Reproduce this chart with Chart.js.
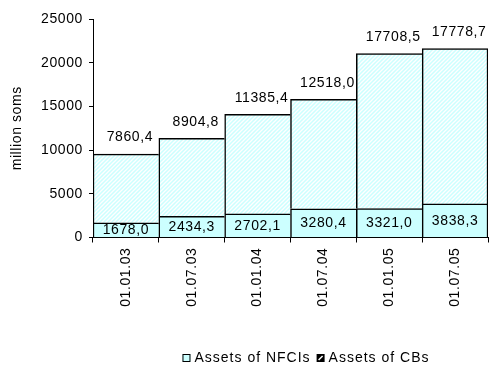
<!DOCTYPE html>
<html>
<head>
<meta charset="utf-8">
<script src="https://cdn.jsdelivr.net/npm/chart.js@4.4.1/dist/chart.umd.min.js"></script>
<style>
  html, body { margin: 0; padding: 0; background: #fff; }
</style>
</head>
<body>
<canvas id="grafico" width="493" height="365"></canvas>
<script>
const fechas = ["01.01.03", "01.07.03", "01.01.04", "01.07.04", "01.01.05", "01.07.05"];
const activosNFCI = [1678.0, 2434.3, 2702.1, 3280.4, 3321.0, 3838.3];
const activosCB = [7860.4, 8904.8, 11385.4, 12518.0, 17708.5, 17778.7];
const ticksY = [0, 5000, 10000, 15000, 20000, 25000];
const nombres = ["Assets of NFCIs", "Assets of CBs"];

const FUENTE = '"Liberation Sans", Arial, sans-serif';
const CIAN = "#ccffff";

Chart.defaults.font.family = FUENTE;
Chart.defaults.font.size = 14;
Chart.defaults.color = "#000";

// relleno rayado para la serie de arriba
function crearRayado() {
    const c = document.createElement("canvas");
    const n = 4;
    c.width = n; c.height = n;
    const g = c.getContext("2d");
    g.fillStyle = CIAN;
    g.fillRect(0, 0, n, n);
    g.strokeStyle = "#fff";
    g.lineWidth = 1.3;
    g.beginPath();
    g.moveTo(0, n); g.lineTo(n, 0);
    g.moveTo(-1, 1); g.lineTo(1, -1);
    g.moveTo(n - 1, n + 1); g.lineTo(n + 1, n - 1);
    g.stroke();
    return g.createPattern(c, "repeat");
}

const formato = v => v.toFixed(1).replace(".", ",");

// el texto del gráfico va algo espaciado
const espaciado = {
    id: "espaciado",
    beforeDraw(chart) {
        chart.ctx.letterSpacing = "0.6px";
    }
};

const etiquetas = {
    id: "etiquetas",
    afterDatasetsDraw(chart) {
        const ctx = chart.ctx;
        ctx.save();
        ctx.font = "14px " + FUENTE;
        ctx.fillStyle = "#000";
        ctx.textAlign = "center";
        ctx.textBaseline = "middle";
        chart.getDatasetMeta(0).data.forEach((bar, i) => {
            ctx.fillText(formato(activosNFCI[i]), bar.x, (bar.y + bar.base) / 2 + 0.5);
        });
        chart.getDatasetMeta(1).data.forEach((bar, i) => {
            ctx.fillText(formato(activosCB[i]), bar.x + 4, bar.y - 16.5);
        });
        ctx.restore();
    }
};

const leyenda = {
    id: "leyenda",
    afterDraw(chart) {
        const ctx = chart.ctx;
        ctx.save();
        ctx.font = "14px " + FUENTE;
        ctx.letterSpacing = "1px";
        ctx.textBaseline = "middle";
        ctx.fillStyle = "#000";
        const caja = 8, sep = 4, entre = 6;
        const anchos = nombres.map(t => ctx.measureText(t).width);
        const total = anchos.reduce((a, w) => a + caja + sep + w, 0) + entre;
        let x = 306 - total / 2;
        const y = 358;
        nombres.forEach((t, i) => {
            if (i === 0) {
                ctx.fillStyle = CIAN;
                ctx.fillRect(x, y - caja / 2, caja, caja);
                ctx.strokeStyle = "#000";
                ctx.lineWidth = 1;
                ctx.strokeRect(x + 0.5, y - caja / 2 + 0.5, caja - 1, caja - 1);
            } else {
                ctx.fillStyle = "#000";
                ctx.fillRect(x, y - caja / 2, caja, caja);
                ctx.strokeStyle = "#fff";
                ctx.lineWidth = 1.5;
                ctx.beginPath();
                ctx.moveTo(x + 2, y + caja / 2 - 2);
                ctx.lineTo(x + caja - 2, y - caja / 2 + 2);
                ctx.stroke();
            }
            ctx.fillStyle = "#000";
            ctx.textAlign = "left";
            ctx.fillText(t, x + caja + sep, y);
            x += caja + sep + anchos[i] + entre;
        });
        ctx.restore();
    }
};

const ultimo = fechas.length - 1;
const borde = c => ({ top: 1.5, left: 1.5, bottom: 0, right: c.dataIndex === ultimo ? 1.5 : 0 });

new Chart(document.getElementById("grafico").getContext("2d"), {
    type: "bar",
    data: {
        labels: fechas,
        datasets: [
            {
                label: nombres[0],
                data: activosNFCI,
                backgroundColor: CIAN,
                borderColor: "#000",
                borderSkipped: false,
                borderWidth: borde
            },
            {
                label: nombres[1],
                data: activosCB,
                backgroundColor: crearRayado(),
                borderColor: "#000",
                borderSkipped: false,
                borderWidth: borde
            }
        ]
    },
    options: {
        responsive: false,
        animation: false,
        devicePixelRatio: 1,
        layout: { padding: { top: 19, right: 5, left: 0, bottom: 0 } },
        datasets: { bar: { barPercentage: 1, categoryPercentage: 1 } },
        plugins: {
            legend: { display: false },
            tooltip: { enabled: false }
        },
        scales: {
            x: {
                stacked: true,
                afterFit: s => { s.height = 127.5; },
                border: { color: "#000", width: 1 },
                grid: { offset: true, drawOnChartArea: false, tickLength: 5, color: "#000" },
                ticks: { minRotation: 90, maxRotation: 90, padding: 5, autoSkip: false }
            },
            y: {
                stacked: true,
                min: 0,
                max: 25000,
                afterFit: s => { s.width = 93; },
                afterBuildTicks: s => { s.ticks = ticksY.map(v => ({ value: v })); },
                border: { color: "#000", width: 1 },
                grid: { drawOnChartArea: false, tickLength: 4, color: "#000" },
                ticks: { padding: 6, callback: v => String(v) },
                title: { display: true, text: "million soms", padding: { top: 9, bottom: 0 } }
            }
        }
    },
    plugins: [espaciado, etiquetas, leyenda]
});
</script>
</body>
</html>
